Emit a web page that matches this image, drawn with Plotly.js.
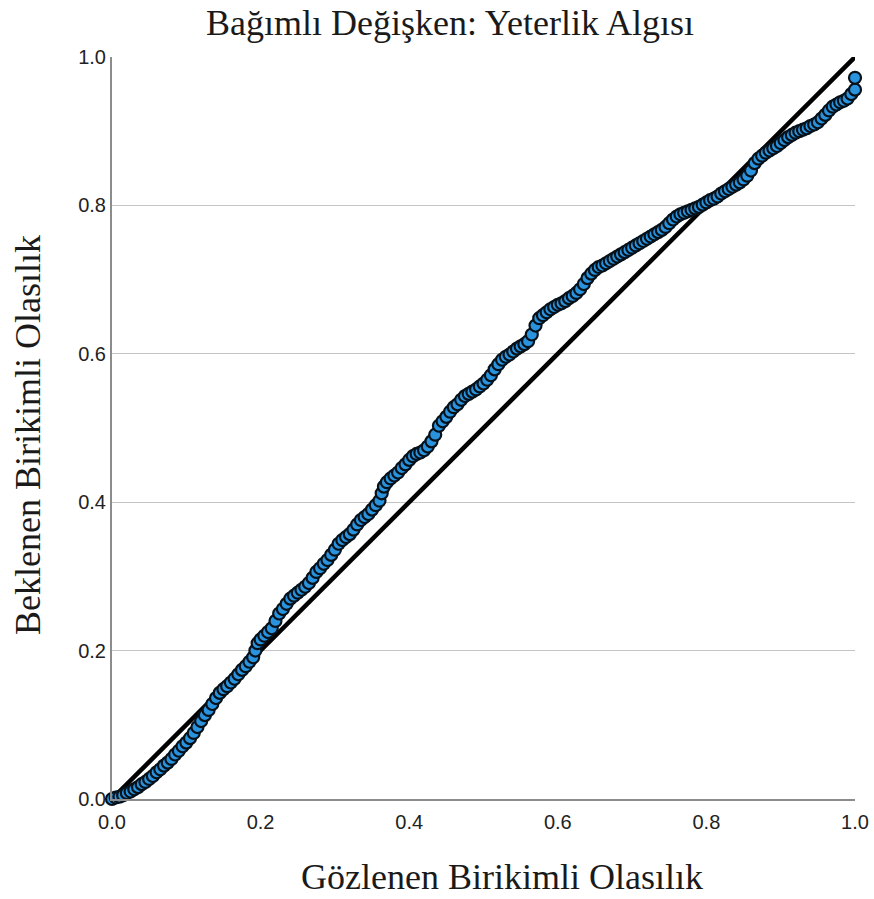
<!DOCTYPE html>
<html>
<head>
<meta charset="utf-8">
<script src="https://cdn.plot.ly/plotly-3.0.1.min.js"></script>
<style>html,body{margin:0;padding:0;background:#fff;}#chart{width:874px;height:899px;}</style>
</head>
<body>
<div id="chart"></div>
<script>
// Observed cumulative probability (x) and expected cumulative probability (y)
const observed = [
0.000,0.005,0.010,0.015,0.020,0.025,0.030,0.035,0.040,0.045,0.050,0.055,0.060,0.065,0.070,0.075,0.080,0.085,0.090,0.095,
0.100,0.105,0.110,0.115,0.120,0.125,0.130,0.135,0.140,0.145,0.150,0.155,0.160,0.165,0.170,0.175,0.180,0.185,0.190,0.193,
0.196,0.200,0.205,0.210,0.215,0.220,0.225,0.230,0.235,0.240,0.245,0.250,0.255,0.260,0.265,0.270,0.275,0.280,0.285,0.290,
0.295,0.300,0.305,0.310,0.315,0.320,0.325,0.330,0.335,0.340,0.345,0.350,0.355,0.360,0.363,0.366,0.370,0.375,0.380,0.385,
0.390,0.395,0.400,0.405,0.410,0.415,0.420,0.425,0.430,0.435,0.440,0.445,0.450,0.455,0.460,0.465,0.470,0.475,0.480,0.485,
0.490,0.495,0.500,0.505,0.510,0.515,0.520,0.525,0.530,0.535,0.540,0.545,0.550,0.555,0.560,0.565,0.570,0.575,0.580,0.585,
0.590,0.595,0.600,0.605,0.610,0.615,0.620,0.625,0.630,0.635,0.640,0.645,0.650,0.655,0.660,0.665,0.670,0.675,0.680,0.685,
0.690,0.695,0.700,0.705,0.710,0.715,0.720,0.725,0.730,0.735,0.740,0.745,0.750,0.755,0.760,0.765,0.770,0.775,0.780,0.785,
0.790,0.795,0.800,0.805,0.810,0.815,0.820,0.825,0.830,0.835,0.840,0.845,0.850,0.855,0.860,0.865,0.870,0.875,0.880,0.885,
0.890,0.895,0.900,0.905,0.910,0.915,0.920,0.925,0.930,0.935,0.940,0.945,0.950,0.955,0.960,0.965,0.970,0.975,0.980,0.985,
0.990,0.995,1.000,1.000
];
const expected = [
0.000,0.002,0.003,0.005,0.008,0.010,0.013,0.016,0.020,0.023,0.027,0.031,0.036,0.040,0.045,0.049,0.054,0.060,0.065,0.071,
0.076,0.082,0.089,0.097,0.105,0.113,0.120,0.128,0.136,0.143,0.148,0.152,0.157,0.162,0.168,0.174,0.179,0.185,0.191,0.200,
0.210,0.215,0.220,0.225,0.230,0.240,0.250,0.256,0.263,0.270,0.274,0.278,0.282,0.286,0.291,0.298,0.306,0.311,0.317,0.322,
0.329,0.336,0.344,0.349,0.353,0.357,0.363,0.370,0.376,0.380,0.384,0.390,0.396,0.402,0.412,0.421,0.427,0.432,0.436,0.440,
0.446,0.451,0.457,0.462,0.465,0.467,0.470,0.475,0.482,0.491,0.503,0.509,0.515,0.522,0.528,0.532,0.538,0.543,0.546,0.549,
0.552,0.556,0.560,0.565,0.571,0.579,0.586,0.592,0.596,0.599,0.603,0.607,0.610,0.613,0.617,0.626,0.638,0.648,0.652,0.656,
0.660,0.663,0.666,0.668,0.671,0.675,0.678,0.682,0.687,0.694,0.702,0.708,0.713,0.717,0.719,0.722,0.725,0.728,0.731,0.734,
0.737,0.740,0.743,0.746,0.749,0.752,0.755,0.758,0.761,0.764,0.767,0.771,0.776,0.781,0.785,0.788,0.790,0.792,0.794,0.796,
0.798,0.801,0.804,0.807,0.809,0.812,0.816,0.819,0.822,0.825,0.828,0.831,0.835,0.840,0.847,0.857,0.863,0.867,0.871,0.874,
0.877,0.880,0.884,0.888,0.892,0.895,0.898,0.900,0.902,0.904,0.907,0.909,0.912,0.917,0.922,0.928,0.933,0.936,0.939,0.941,
0.944,0.950,0.956,0.972
];
// Reference diagonal
const refX = [0, 1];
const refY = [0, 1];
const tickVals = [0, 0.2, 0.4, 0.6, 0.8, 1.0];
const tickText = ['0.0', '0.2', '0.4', '0.6', '0.8', '1.0'];

const serif = 'Liberation Serif, Times New Roman, serif';
const sans = 'Liberation Sans, Arial, sans-serif';

const traces = [
  {
    x: refX, y: refY, type: 'scatter', mode: 'lines',
    line: {color: '#000000', width: 4.5},
    hoverinfo: 'skip', cliponaxis: false
  },
  {
    x: observed, y: expected, type: 'scatter', mode: 'markers',
    marker: {size: 12, color: '#2a93de', line: {color: '#06111a', width: 2.2}},
    cliponaxis: false
  }
];

const layout = {
  width: 874, height: 899,
  margin: {l: 112, r: 19, t: 57, b: 100},
  paper_bgcolor: '#ffffff', plot_bgcolor: '#ffffff',
  showlegend: false,
  title: {
    text: 'Bağımlı Değişken: Yeterlik Algısı',
    font: {family: serif, size: 36, color: '#1a1a1a'},
    x: 0.515, xref: 'container', xanchor: 'center',
    y: 0.9755, yref: 'container', yanchor: 'middle'
  },
  xaxis: {
    range: [0, 1], tickvals: tickVals, ticktext: tickText,
    showgrid: false, zeroline: false,
    showline: true, linecolor: '#8c8c8c', linewidth: 2,
    ticks: '', ticklen: 0, ticklabelstandoff: 4,
    tickfont: {family: sans, size: 20, color: '#222222'},
    automargin: false, fixedrange: true
  },
  yaxis: {
    range: [0, 1], tickvals: tickVals, ticktext: tickText,
    showgrid: true, gridcolor: '#c4c4c4', gridwidth: 1.3,
    zeroline: false,
    showline: true, linecolor: '#8c8c8c', linewidth: 2,
    ticks: '', ticklen: 0,
    tickfont: {family: sans, size: 20, color: '#222222'},
    automargin: false, fixedrange: true
  },
  annotations: [
    {
      text: 'Gözlenen Birikimli Olasılık',
      xref: 'paper', yref: 'paper', x: 0.525, y: -0.105,
      xanchor: 'center', yanchor: 'middle', showarrow: false,
      font: {family: serif, size: 36, color: '#1a1a1a'}
    },
    {
      text: 'Beklenen Birikimli Olasılık',
      xref: 'paper', yref: 'paper', x: -0.113, y: 0.4906,
      xanchor: 'center', yanchor: 'middle', showarrow: false, textangle: -90,
      font: {family: serif, size: 36, color: '#1a1a1a'}
    }
  ]
};

Plotly.newPlot('chart', traces, layout, {displayModeBar: false, staticPlot: true});
</script>
</body>
</html>
